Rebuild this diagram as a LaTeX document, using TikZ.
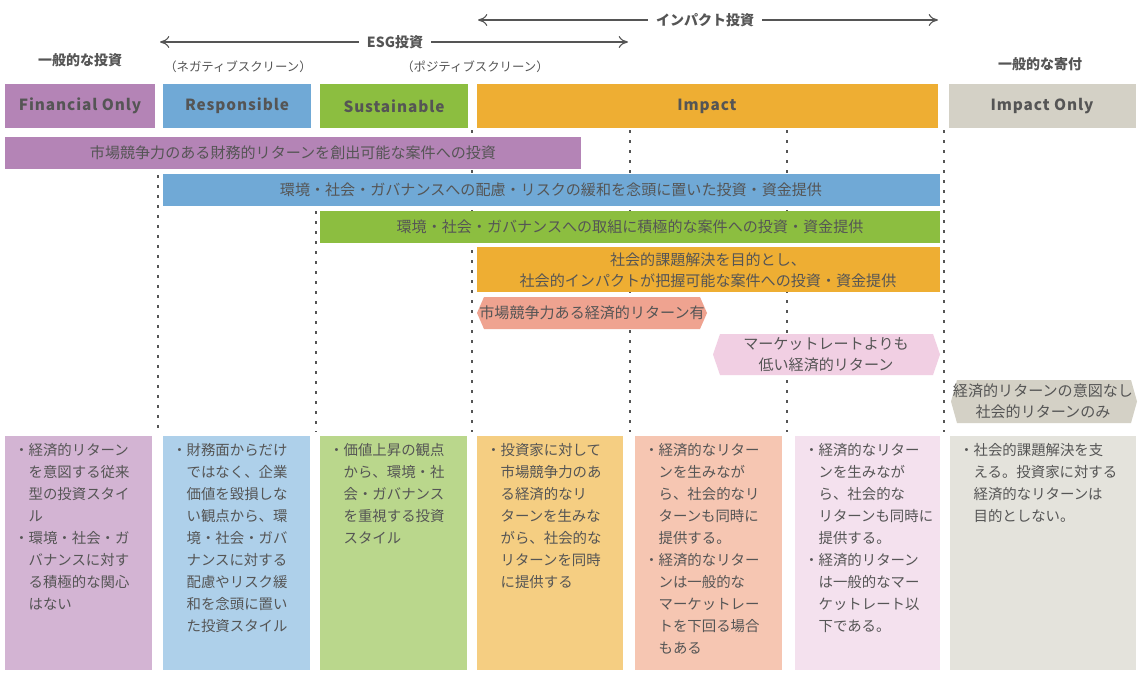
\documentclass[tikz,border=0pt]{standalone}
\usepackage{fontspec}
\usetikzlibrary{arrows.meta}
\setmainfont{Noto Sans CJK JP}
\newfontfamily\hdrfont[LetterSpace=6]{Noto Sans CJK JP}
\definecolor{txt}{HTML}{555555}
\definecolor{cPu}{HTML}{B484B6}\definecolor{lPu}{HTML}{D3B4D3}
\definecolor{cBl}{HTML}{70A9D6}\definecolor{lBl}{HTML}{AED0EA}
\definecolor{cGr}{HTML}{8CBE40}\definecolor{lGr}{HTML}{BAD78C}
\definecolor{cOr}{HTML}{EEAE33}\definecolor{lOr}{HTML}{F5CE82}
\definecolor{lSa}{HTML}{F6C6B2}\definecolor{hSa}{HTML}{EFA390}
\definecolor{lPk}{HTML}{F4E1EE}\definecolor{hPk}{HTML}{F1CFE3}
\definecolor{cGy}{HTML}{D4D1C6}\definecolor{lGy}{HTML}{E4E3DC}
\begin{document}
\begin{tikzpicture}[x=0.75pt,y=-0.75pt,
  every node/.style={text=txt,inner sep=0pt},
  hdr/.style={font=\hdrfont\bfseries\fontsize{11.5pt}{14pt}\selectfont},
  lab/.style={font=\bfseries\fontsize{10.5pt}{12pt}\selectfont},
  sm/.style={font=\fontsize{9.3pt}{10pt}\selectfont},
  bar/.style={font=\fontsize{11.3pt}{16pt}\selectfont,align=center},
  body/.style={font=\fontsize{10.8pt}{16.5pt}\selectfont,align=left,anchor=north west},
  vline/.style={txt,line width=1pt,dash pattern=on 2.5pt off 5pt},
  arr/.style={txt,line width=0.8pt,-{To[length=7pt,width=9pt]}}]
\fill[white] (0,0) rectangle (1141,675);
\useasboundingbox (0,0) rectangle (1141,675);
% dotted lines
\foreach \x/\y in {158/175,316/211,472/130,630/130,787/130,944/130}
  \draw[vline] (\x,\y) -- (\x,432);
% arrows
\node[lab,fill=white,inner xsep=6pt] (impl) at (705,20) {インパクト投資};
\coordinate (impL) at (478,20); \coordinate (impR) at (938,20);
\draw[arr] (impl.west) -- (impL); \draw[arr] (impl.east) -- (impR);
\node[lab,fill=white,inner xsep=6pt] (esgl) at (395,42) {ESG投資};
\coordinate (esgL) at (160,42); \coordinate (esgR) at (628,42);
\draw[arr] (esgl.west) -- (esgL); \draw[arr] (esgl.east) -- (esgR);
\node[lab] (g1) at (80,60) {一般的な投資};
\node[lab] (g2) at (1040,64) {一般的な寄付};
\node[sm] (neg) at (238,67) {（ネガティブスクリーン）};
\node[sm] (pos) at (475,67) {（ポジティブスクリーン）};
% headers
\fill[cPu] (5,84) rectangle (155,128); \node[hdr] (h1) at (80,106) {Financial Only};
\fill[cBl] (163,84) rectangle (311,128); \node[hdr] (h2) at (237,106) {Responsible};
\fill[cGr] (320,84) rectangle (468,128); \node[hdr] (h3) at (394,106) {Sustainable};
\fill[cOr] (477,84) rectangle (938,128); \node[hdr] (h4) at (707,106) {Impact};
\fill[cGy] (949,84) rectangle (1136,128); \node[hdr] (h5) at (1042,106) {Impact Only};
% bars
\fill[cPu] (5,137) rectangle (581,169); \node[bar] (b1) at (293,153) {市場競争力のある財務的リターンを創出可能な案件への投資};
\fill[cBl] (163,174) rectangle (940,206); \node[bar] (b2) at (551,190) {環境・社会・ガバナンスへの配慮・リスクの緩和を念頭に置いた投資・資金提供};
\fill[cGr] (320,211) rectangle (940,243); \node[bar] (b3) at (630,227) {環境・社会・ガバナンスへの取組に積極的な案件への投資・資金提供};
\fill[cOr] (477,247) rectangle (940,292); \node[bar] (b4) at (708,270) {社会的課題解決を目的とし、\\社会的インパクトが把握可能な案件への投資・資金提供};
\fill[hSa] (484,297) -- (700,297) -- (707,313) -- (700,329) -- (484,329) -- (477,313) -- cycle;
\node[bar] (x1) at (592,313) {市場競争力ある経済的リターン有};
\fill[hPk] (720,334) -- (933,334) -- (940,354.5) -- (933,375) -- (720,375) -- (713,354.5) -- cycle;
\node[bar] (x2) at (826,354.5) {マーケットレートよりも\\低い経済的リターン};
\fill[cGy] (957,380) -- (1131,380) -- (1137,401.5) -- (1131,423) -- (957,423) -- (951,401.5) -- cycle;
\node[bar] (x3) at (1043,401.5) {経済的リターンの意図なし\\社会的リターンのみ};
% columns
\fill[lPu] (5,436) rectangle (152,670);
\fill[lBl] (163,436) rectangle (310,670);
\fill[lGr] (320,436) rectangle (467,670);
\fill[lOr] (477,436) rectangle (623,670);
\fill[lSa] (635,436) rectangle (782,670);
\fill[lPk] (795,436) rectangle (940,670);
\fill[lGy] (950,436) rectangle (1136,670);
\def\I{\hspace*{1em}}
\node[body] (t1) at (14,443) {・経済的リターン\\\I を意図する従来\\\I 型の投資スタイ\\\I ル\\・環境・社会・ガ\\\I バナンスに対す\\\I る積極的な関心\\\I はない};
\node[body] (t2) at (172,443) {・財務面からだけ\\\I ではなく、企業\\\I 価値を毀損しな\\\I い観点から、環\\\I 境・社会・ガバ\\\I ナンスに対する\\\I 配慮やリスク緩\\\I 和を念頭に置い\\\I た投資スタイル};
\node[body] (t3) at (329,443) {・価値上昇の観点\\\I から、環境・社\\\I 会・ガバナンス\\\I を重視する投資\\\I スタイル};
\node[body] (t4) at (486,443) {・投資家に対して\\\I 市場競争力のあ\\\I る経済的なリ\\\I ターンを生みな\\\I がら、社会的な\\\I リターンを同時\\\I に提供する};
\node[body] (t5) at (644,443) {・経済的なリター\\\I ンを生みなが\\\I ら、社会的なリ\\\I ターンも同時に\\\I 提供する。\\・経済的なリター\\\I ンは一般的な\\\I マーケットレー\\\I トを下回る場合\\\I もある};
\node[body] (t6) at (804,443) {・経済的なリター\\\I ンを生みなが\\\I ら、社会的な\\\I リターンも同時に\\\I 提供する。\\・経済的リターン\\\I は一般的なマー\\\I ケットレート以\\\I 下である。};
\node[body] (t7) at (959,443) {・社会的課題解決を支\\\I える。投資家に対する\\\I 経済的なリターンは\\\I 目的としない。};
\end{tikzpicture}
\end{document}
